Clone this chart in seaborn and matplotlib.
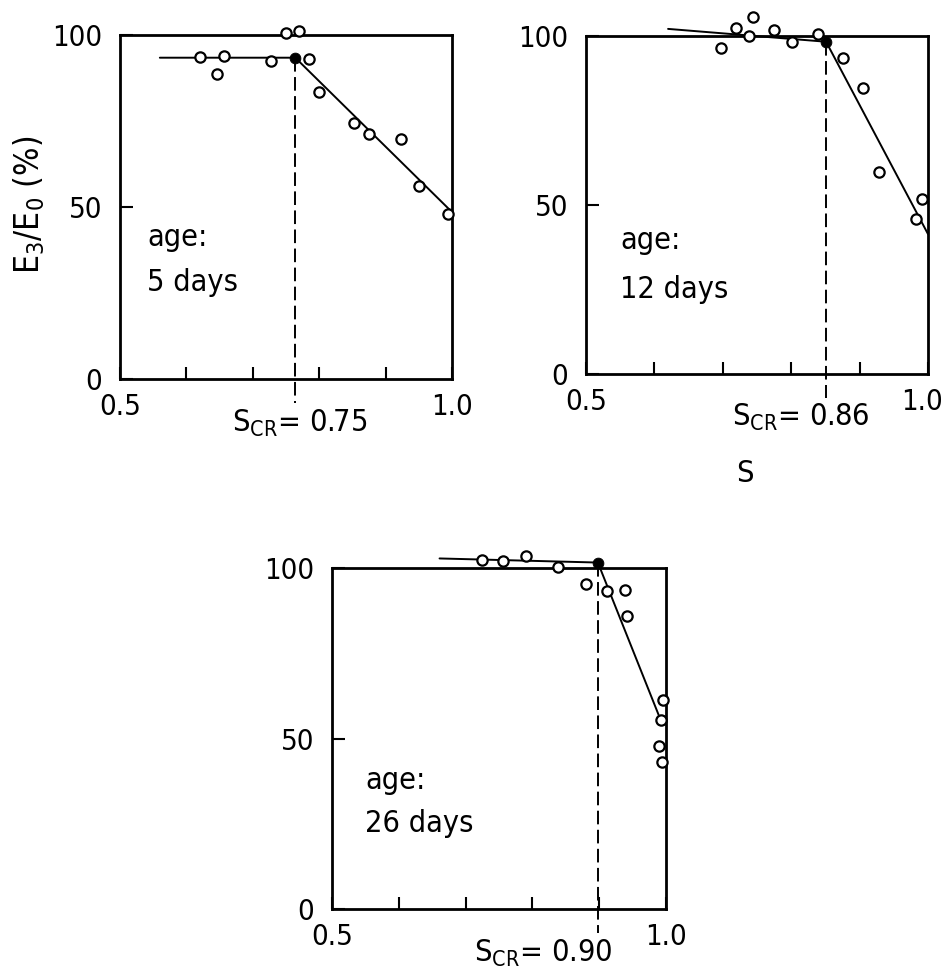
import matplotlib
matplotlib.use("Agg")
import matplotlib.pyplot as plt
import matplotlib.transforms as mtransforms
import pandas as pd
import seaborn as sns

# Data (E3/E0 in %, S = stress level)
s_5d = [0.620, 0.646, 0.657, 0.727, 0.750, 0.770, 0.785, 0.800, 0.852, 0.875, 0.923, 0.951, 0.994]
e_5d = [93.7, 88.7, 94.0, 92.5, 100.7, 101.2, 92.9, 83.5, 74.3, 71.2, 69.7, 56.1, 47.9]
fit_s_5d = [0.560, 0.764, 0.997]
fit_e_5d = [93.4, 93.4, 49.1]

s_12d = [0.697, 0.719, 0.738, 0.744, 0.775, 0.801, 0.839, 0.875, 0.905, 0.928, 0.982, 0.991]
e_12d = [96.5, 102.3, 100.0, 105.7, 101.8, 98.1, 100.5, 93.4, 84.5, 59.7, 45.8, 51.8]
fit_s_12d = [0.620, 0.851, 1.000]
fit_e_12d = [102.1, 98.3, 41.4]

s_26d = [0.725, 0.756, 0.790, 0.838, 0.880, 0.911, 0.939, 0.941, 0.995, 0.992, 0.990, 0.994]
e_26d = [102.3, 102.1, 103.5, 100.4, 95.2, 93.3, 93.5, 86.0, 61.3, 55.4, 47.9, 43.2]
fit_s_26d = [0.661, 0.898, 0.989]
fit_e_26d = [102.8, 101.6, 56.9]

ages = ["5 days", "12 days", "26 days"]
scr_labels = ["0.75", "0.86", "0.90"]

sns.set_style("white")
plt.rcParams["font.family"] = ["DejaVu Sans"]
plt.rcParams["font.stretch"] = "condensed"
plt.rcParams["text.color"] = "black"
plt.rcParams["xtick.color"] = "black"
plt.rcParams["ytick.color"] = "black"
plt.rcParams["mathtext.fontset"] = "custom"
plt.rcParams["mathtext.rm"] = "DejaVu Sans:stretch=condensed"
plt.rcParams["mathtext.it"] = "DejaVu Sans:stretch=condensed"

FS = 22
TICK_FS = 21

fig = plt.figure(figsize=(9.43, 9.68), dpi=100)

# axes positions in figure fractions (left, bottom, width, height)
positions = [
    [120 / 943, 1 - 379 / 968, 332 / 943, 344 / 968],
    [586 / 943, 1 - 374 / 968, 342 / 943, 338 / 968],
    [332 / 943, 1 - 909 / 968, 334 / 943, 341 / 968],
]
panels = [
    (s_5d, e_5d, fit_s_5d, fit_e_5d),
    (s_12d, e_12d, fit_s_12d, fit_e_12d),
    (s_26d, e_26d, fit_s_26d, fit_e_26d),
]
age_text_y = [(41, 28), (39.6, 25), (37.8, 25.2)]
scr_x = [0.771, 0.814, 0.816]

for i, (pos, (s, e, fs, fe)) in enumerate(zip(positions, panels)):
    ax = fig.add_axes(pos)
    pts = pd.DataFrame({"S": s, "E": e})
    fit = pd.DataFrame({"S": fs, "E": fe})

    sns.lineplot(data=fit, x="S", y="E", ax=ax, color="black", lw=1.4,
                 sort=False, estimator=None, clip_on=False)
    sns.scatterplot(data=pts, x="S", y="E", ax=ax, s=55, facecolor="white",
                    edgecolor="black", linewidth=1.6, zorder=3, clip_on=False)
    # breakpoint (filled)
    sns.scatterplot(x=[fs[1]], y=[fe[1]], ax=ax, s=60, color="black",
                    edgecolor="black", zorder=4, clip_on=False)
    # dashed drop line down past the axis
    ax.plot([fs[1], fs[1]], [fe[1], -7], color="black", lw=1.4,
            linestyle=(0, (7, 2.8)), clip_on=False)

    ax.set_xlim(0.5, 1.0)
    ax.set_ylim(0, 100)
    ax.set_xticks([0.5, 0.6, 0.7, 0.8, 0.9, 1.0])
    ax.set_xticklabels(["0.5", "", "", "", "", "1.0"])
    ax.set_yticks([0, 50, 100])
    ax.set_yticklabels(["0", "50", "100"])
    ax.tick_params(axis="x", bottom=True, direction="in", length=9, width=1.5,
                   pad=10, labelsize=TICK_FS)
    ax.tick_params(axis="y", left=True, direction="in", length=9, width=1.5,
                   pad=13, labelsize=TICK_FS)
    ax.set_xlabel("")
    ax.set_ylabel("")
    for sp in ax.spines.values():
        sp.set_linewidth(2)
        sp.set_color("black")

    if i == 1:
        # keep the right-hand "1.0" inside the figure edge
        lab = ax.get_xticklabels()[-1]
        lab.set_transform(lab.get_transform() +
                          mtransforms.ScaledTranslation(-6 / 100, 0, fig.dpi_scale_trans))

    ax.text(0.541 if i == 0 else 0.55, age_text_y[i][0], "age:",
            fontsize=FS, va="center", ha="left")
    ax.text(0.541 if i == 0 else 0.55, age_text_y[i][1], ages[i],
            fontsize=FS, va="center", ha="left")
    ax.text(scr_x[i], -13, r"$\mathregular{S_{CR}}$= " + scr_labels[i],
            fontsize=FS, va="center", ha="center")

fig.text(29 / 943, 1 - 205 / 968, r"$\mathregular{E_3/E_0}$ (%)", fontsize=24,
         rotation=90, va="center", ha="center")
fig.text(745 / 943, 1 - 473 / 968, "S", fontsize=FS, va="center", ha="center")

fig.savefig("out.png", dpi=100)
